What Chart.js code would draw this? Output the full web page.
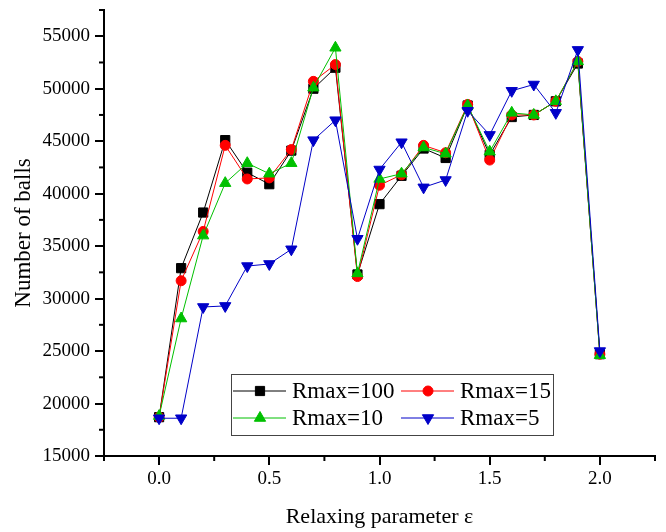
<!DOCTYPE html>
<html>
<head>
<meta charset="utf-8">
<script src="https://cdn.jsdelivr.net/npm/chart.js@4"></script>
<style>body{margin:0;background:#fff}</style>
</head>
<body>
<canvas id="chartBalls" width="666" height="532"></canvas>
<script>
// relaxing parameter values
const epsilon = [0.0, 0.1, 0.2, 0.3, 0.4, 0.5, 0.6, 0.7, 0.8, 0.9, 1.0, 1.1, 1.2, 1.3, 1.4, 1.5, 1.6, 1.7, 1.8, 1.9, 2.0];

const rmax100 = [18700, 32900, 38200, 45100, 42000, 40900, 44100, 50000, 52000, 32300, 39000, 41700, 44300, 43400, 48400, 43700, 47300, 47500, 48800, 52400, 24700];
const rmax15  = [18700, 31700, 36400, 44600, 41400, 41500, 44200, 50700, 52300, 32100, 40800, 41800, 44600, 43900, 48500, 43200, 47500, 47500, 48800, 52600, 24700];
const rmax10  = [18800, 28100, 36000, 41000, 42900, 41900, 42900, 50100, 53900, 32400, 41400, 41900, 44400, 43800, 48400, 44000, 47700, 47500, 48800, 52600, 24600];
const rmax5   = [18600, 18600, 29200, 29300, 33100, 33300, 34700, 45100, 47000, 35700, 42300, 44900, 40600, 41300, 47900, 45600, 49800, 50400, 47700, 53700, 25000];

const xTicks = [0, 0.5, 1.0, 1.5, 2.0];
const xMinor = [-0.25, 0.25, 0.75, 1.25, 1.75, 2.25];
const yTicks = [15000, 20000, 25000, 30000, 35000, 40000, 45000, 50000, 55000];
const yMinor = [17500, 22500, 27500, 32500, 37500, 42500, 47500, 52500, 57500];

const fuente = 'Liberation Serif';

function puntos(arr) {
  return epsilon.map((e, i) => ({ x: e, y: arr[i] }));
}

function serie(label, arr, color, estilo, radio, rot, orden) {
  return {
    label: label,
    data: puntos(arr),
    borderColor: color,
    backgroundColor: color,
    pointBackgroundColor: color,
    pointBorderColor: color,
    borderWidth: 1,
    pointStyle: estilo,
    pointRadius: radio,
    pointRotation: rot,
    pointBorderWidth: 1,
    order: orden
  };
}

// minor ticks (Origin style, shorter)
const ticksMenores = {
  id: 'ticksMenores',
  afterDraw(chart) {
    const ctx = chart.ctx;
    const x = chart.scales.x, y = chart.scales.y;
    ctx.save();
    ctx.strokeStyle = '#000';
    ctx.lineWidth = 2;
    xMinor.forEach(v => {
      const px = x.getPixelForValue(v);
      ctx.beginPath(); ctx.moveTo(px, x.top); ctx.lineTo(px, x.top + 5); ctx.stroke();
    });
    yMinor.forEach(v => {
      const py = y.getPixelForValue(v);
      ctx.beginPath(); ctx.moveTo(y.right, py); ctx.lineTo(y.right - 5, py); ctx.stroke();
    });
    ctx.restore();
  }
};

// legend box inside the plot
const leyenda = {
  id: 'leyenda',
  afterDraw(chart) {
    const ctx = chart.ctx;
    const a = chart.chartArea;
    const bx = a.left + 127, by = a.bottom - 82, bw = 322, bh = 61;
    ctx.save();
    ctx.fillStyle = '#fff';
    ctx.fillRect(bx, by, bw, bh);
    ctx.strokeStyle = '#444';
    ctx.lineWidth = 1;
    ctx.strokeRect(bx + 0.5, by + 0.5, bw, bh);
    chart.data.datasets.forEach((ds, i) => {
      const col = i % 2, row = Math.floor(i / 2);
      const x0 = bx + 2 + col * 168;
      const y0 = by + 17 + row * 27;
      ctx.strokeStyle = ds.borderColor;
      ctx.lineWidth = 1;
      ctx.beginPath(); ctx.moveTo(x0, y0); ctx.lineTo(x0 + 53, y0); ctx.stroke();
      ctx.fillStyle = ds.pointBackgroundColor;
      Chart.helpers.drawPoint(ctx, {
        pointStyle: ds.pointStyle, radius: ds.pointRadius, borderWidth: 1, rotation: ds.pointRotation
      }, x0 + 27, y0);
      ctx.fillStyle = '#000';
      ctx.font = '23px "' + fuente + '"';
      ctx.textBaseline = 'middle';
      ctx.fillText(ds.label, x0 + 59, y0 + 1);
    });
    ctx.restore();
  }
};

const ctx = document.getElementById('chartBalls');

new Chart(ctx, {
  type: 'line',
  data: {
    datasets: [
      serie('Rmax=100', rmax100, '#000000', 'rect', 6.5, 0, 3),
      serie('Rmax=15', rmax15, '#ff0000', 'circle', 5, 0, 2),
      serie('Rmax=10', rmax10, '#00c000', 'triangle', 6.5, 0, 1),
      serie('Rmax=5', rmax5, '#0000c8', 'triangle', 6.5, 180, 0)
    ]
  },
  options: {
    responsive: false,
    animation: false,
    layout: { padding: { top: 10, right: 11, left: 0, bottom: 0 } },
    plugins: {
      legend: { display: false },
      tooltip: { enabled: false }
    },
    scales: {
      x: {
        type: 'linear',
        min: -0.25,
        max: 2.25,
        afterBuildTicks: s => { s.ticks = xTicks.map(v => ({ value: v })); },
        afterFit: s => { s.height = 76; },
        border: { color: '#000', width: 2 },
        grid: { drawOnChartArea: false, color: '#000', lineWidth: 2, tickLength: 9 },
        ticks: {
          color: '#000',
          padding: 3,
          font: { family: fuente, size: 19 },
          callback: v => Number(v).toFixed(1)
        },
        title: {
          display: true,
          text: 'Relaxing parameter ε',
          color: '#000',
          font: { family: fuente, size: 22 },
          padding: { top: 0, bottom: 2 }
        }
      },
      y: {
        min: 15000,
        max: 57500,
        afterBuildTicks: s => { s.ticks = yTicks.map(v => ({ value: v })); },
        afterFit: s => { s.width = 104; s.paddingTop = 0; s.paddingBottom = 0; },
        border: { color: '#000', width: 2 },
        grid: { drawOnChartArea: false, color: '#000', lineWidth: 2, tickLength: 9 },
        ticks: {
          color: '#000',
          padding: 5,
          font: { family: fuente, size: 19 },
          callback: v => String(v)
        },
        title: {
          display: true,
          text: 'Number of balls',
          color: '#000',
          font: { family: fuente, size: 23 },
          padding: { top: 10, bottom: 0 }
        }
      }
    }
  },
  plugins: [ticksMenores, leyenda]
});
</script>
</body>
</html>
